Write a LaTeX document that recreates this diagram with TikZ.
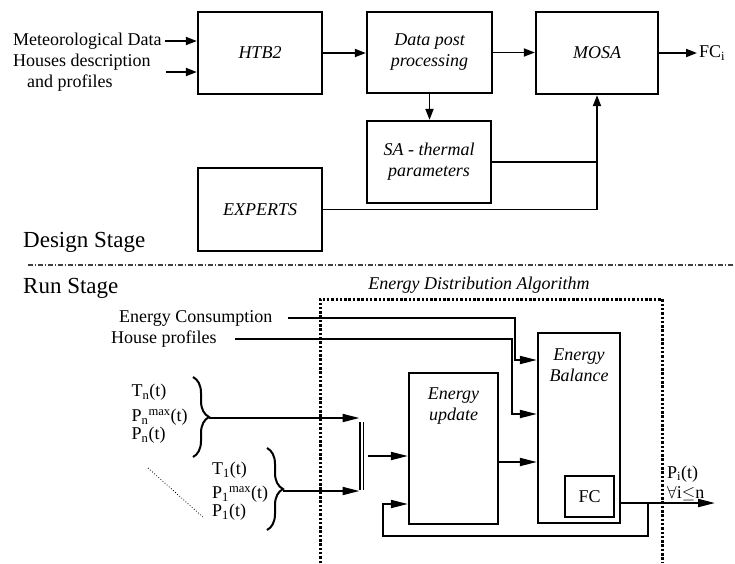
\documentclass[tikz,border=0pt]{standalone}
\usepackage{fontspec}
\setmainfont{Liberation Serif}
\usetikzlibrary{arrows.meta,decorations.pathreplacing}

\begin{document}
\begin{tikzpicture}[x=1pt, y=-1pt,
  every node/.style={inner sep=0pt, font=\fontsize{18}{20}\selectfont},
  ital/.style={font=\fontsize{18}{21}\selectfont\itshape},
  big/.style={font=\fontsize{23}{26}\selectfont},
  block/.style={draw, line width=2.3pt, align=center},
  wire/.style={line width=1.9pt},
  arr/.style={wire, -{Triangle[length=11pt,width=8pt]}},
  arrlong/.style={wire, -{Triangle[length=17pt,width=8pt]}},
  brc/.style={line width=2pt, decorate, decoration={brace, amplitude=16pt}},
  sep/.style={line width=1.1pt, black!75, dash pattern=on 4.5pt off 2pt on 1.5pt off 2pt},
  dotbox/.style={line width=3pt, dash pattern=on 2.5pt off 1.8pt}]
\useasboundingbox (0,0) rectangle (735,563);

% design stage
\node[block, ital, minimum width=124, minimum height=82] (htb) at (260,53) {HTB2};
\node[block, ital, minimum width=125, minimum height=81] (dpp) at (429.5,52.5) {Data post\\processing};
\node[block, ital, minimum width=122, minimum height=82] (mosa) at (597,53) {MOSA};
\node[block, ital, minimum width=124, minimum height=82] (sa) at (429,162) {SA - thermal\\parameters};
\node[block, ital, minimum width=124, minimum height=83] (experts) at (260,209.5) {EXPERTS};
\node[anchor=west] (met) at (13,41) {Meteorological Data};
\node[anchor=west, align=left, font=\fontsize{18}{21}\selectfont] (houses) at (13,72.5) {Houses description\\\hspace*{14pt}and profiles};
\node[anchor=west] (fci) at (699,53) {FC\textsubscript{i}};
\coordinate (hin) at (166,72);

\draw[arr] ([xshift=3pt]met.east) -- (met.east -| htb.west);
\draw[arr] (hin) -- (hin -| htb.west);
\draw[arr] (htb.east) -- (htb.east -| dpp.west);
\draw[arr] (dpp.east) -- (dpp.east -| mosa.west);
\draw[arr] (mosa.east) -- ([xshift=-2pt]fci.west);
\draw[arr] (dpp.south) -- (dpp.south |- sa.north);
\draw[wire] (sa.east) -- (sa.east -| mosa.south);
\draw[arr] (experts.east) -| (mosa.south);

\node[big, anchor=west] (design) at (23,242) {Design Stage};
\draw[sep] (28,265) -- (735,265);
\node[big, anchor=west] (run) at (23,288) {Run Stage};

% run stage
\node[ital] (eda) at (479,285) {Energy Distribution Algorithm};
\draw[dotbox] (320,563) -- (320,299) -- (662,299) -- (662,563);

\node[block, minimum width=89, minimum height=151] (eupd) at (453.5,448.5) {};
\node[ital, align=center, anchor=north] (eupdtxt) at ([yshift=-16pt]eupd.north) {Energy\\update};
\node[block, minimum width=82, minimum height=190] (ebal) at (579,428) {};
\node[ital, align=center, anchor=north] (ebaltxt) at ([yshift=-17pt]ebal.north) {Energy\\Balance};
\node[block, minimum width=49, minimum height=41] (fc) at (589.5,496.5) {FC};

\node[anchor=west] (ec) at (119,318) {Energy Consumption};
\node[anchor=west] (hp) at (111,339) {House profiles};
\draw[arrlong] ([xshift=15pt]ec.east) -- (515,318) |- ([yshift=68pt]ebal.west);
\draw[arrlong] ([xshift=18pt]hp.east) -- (512,339) |- ([yshift=14pt]ebal.west);
\draw[arrlong] ([yshift=-13.5pt]eupd.east) -- ([yshift=-13.5pt]eupd.east -| ebal.west);

\coordinate (out) at (715,503);
\draw[arrlong] ([yshift=-75pt]ebal.east) -- (out);
\draw[arrlong] (648,503) |- (383,536) |- ([yshift=-55.5pt]eupd.west);
\node[anchor=west, align=left] (pi) at (667,483) {P\textsubscript{i}(t)\\$\forall$i$\leq$n};

% inputs of the houses
\coordinate (bartop) at (361.5,422);
\coordinate (barbot) at (361.5,490);
\draw[line width=1.4pt, double, double distance=2pt] (bartop) -- (barbot);
\coordinate (barout) at (368,456);
\draw[arrlong] (barout) -- (barout -| eupd.west);

\node[anchor=north west, align=left] (tn) at (131.5,384) {T\textsubscript{n}(t)\\[5pt]P\textsubscript{n}\textsuperscript{max}(t)\\[-2pt]P\textsubscript{n}(t)};
\node[anchor=north west, align=left] (t1) at (212,462) {T\textsubscript{1}(t)\\[4pt]P\textsubscript{1}\textsuperscript{max}(t)\\[-2pt]P\textsubscript{1}(t)};
\draw[brc] (193,377) -- (193,457);
\draw[brc] (267,448) -- (267,530);
\coordinate (ntip) at (209,418);
\coordinate (onetip) at (283,491);
\draw[arrlong, shorten >=2pt] (ntip) -- (ntip -| bartop);
\draw[arrlong, shorten >=2pt] (onetip) -- (onetip -| bartop);
\draw[dotted, line width=0.8pt] (148,468) -- (204,518);
\end{tikzpicture}
\end{document}
